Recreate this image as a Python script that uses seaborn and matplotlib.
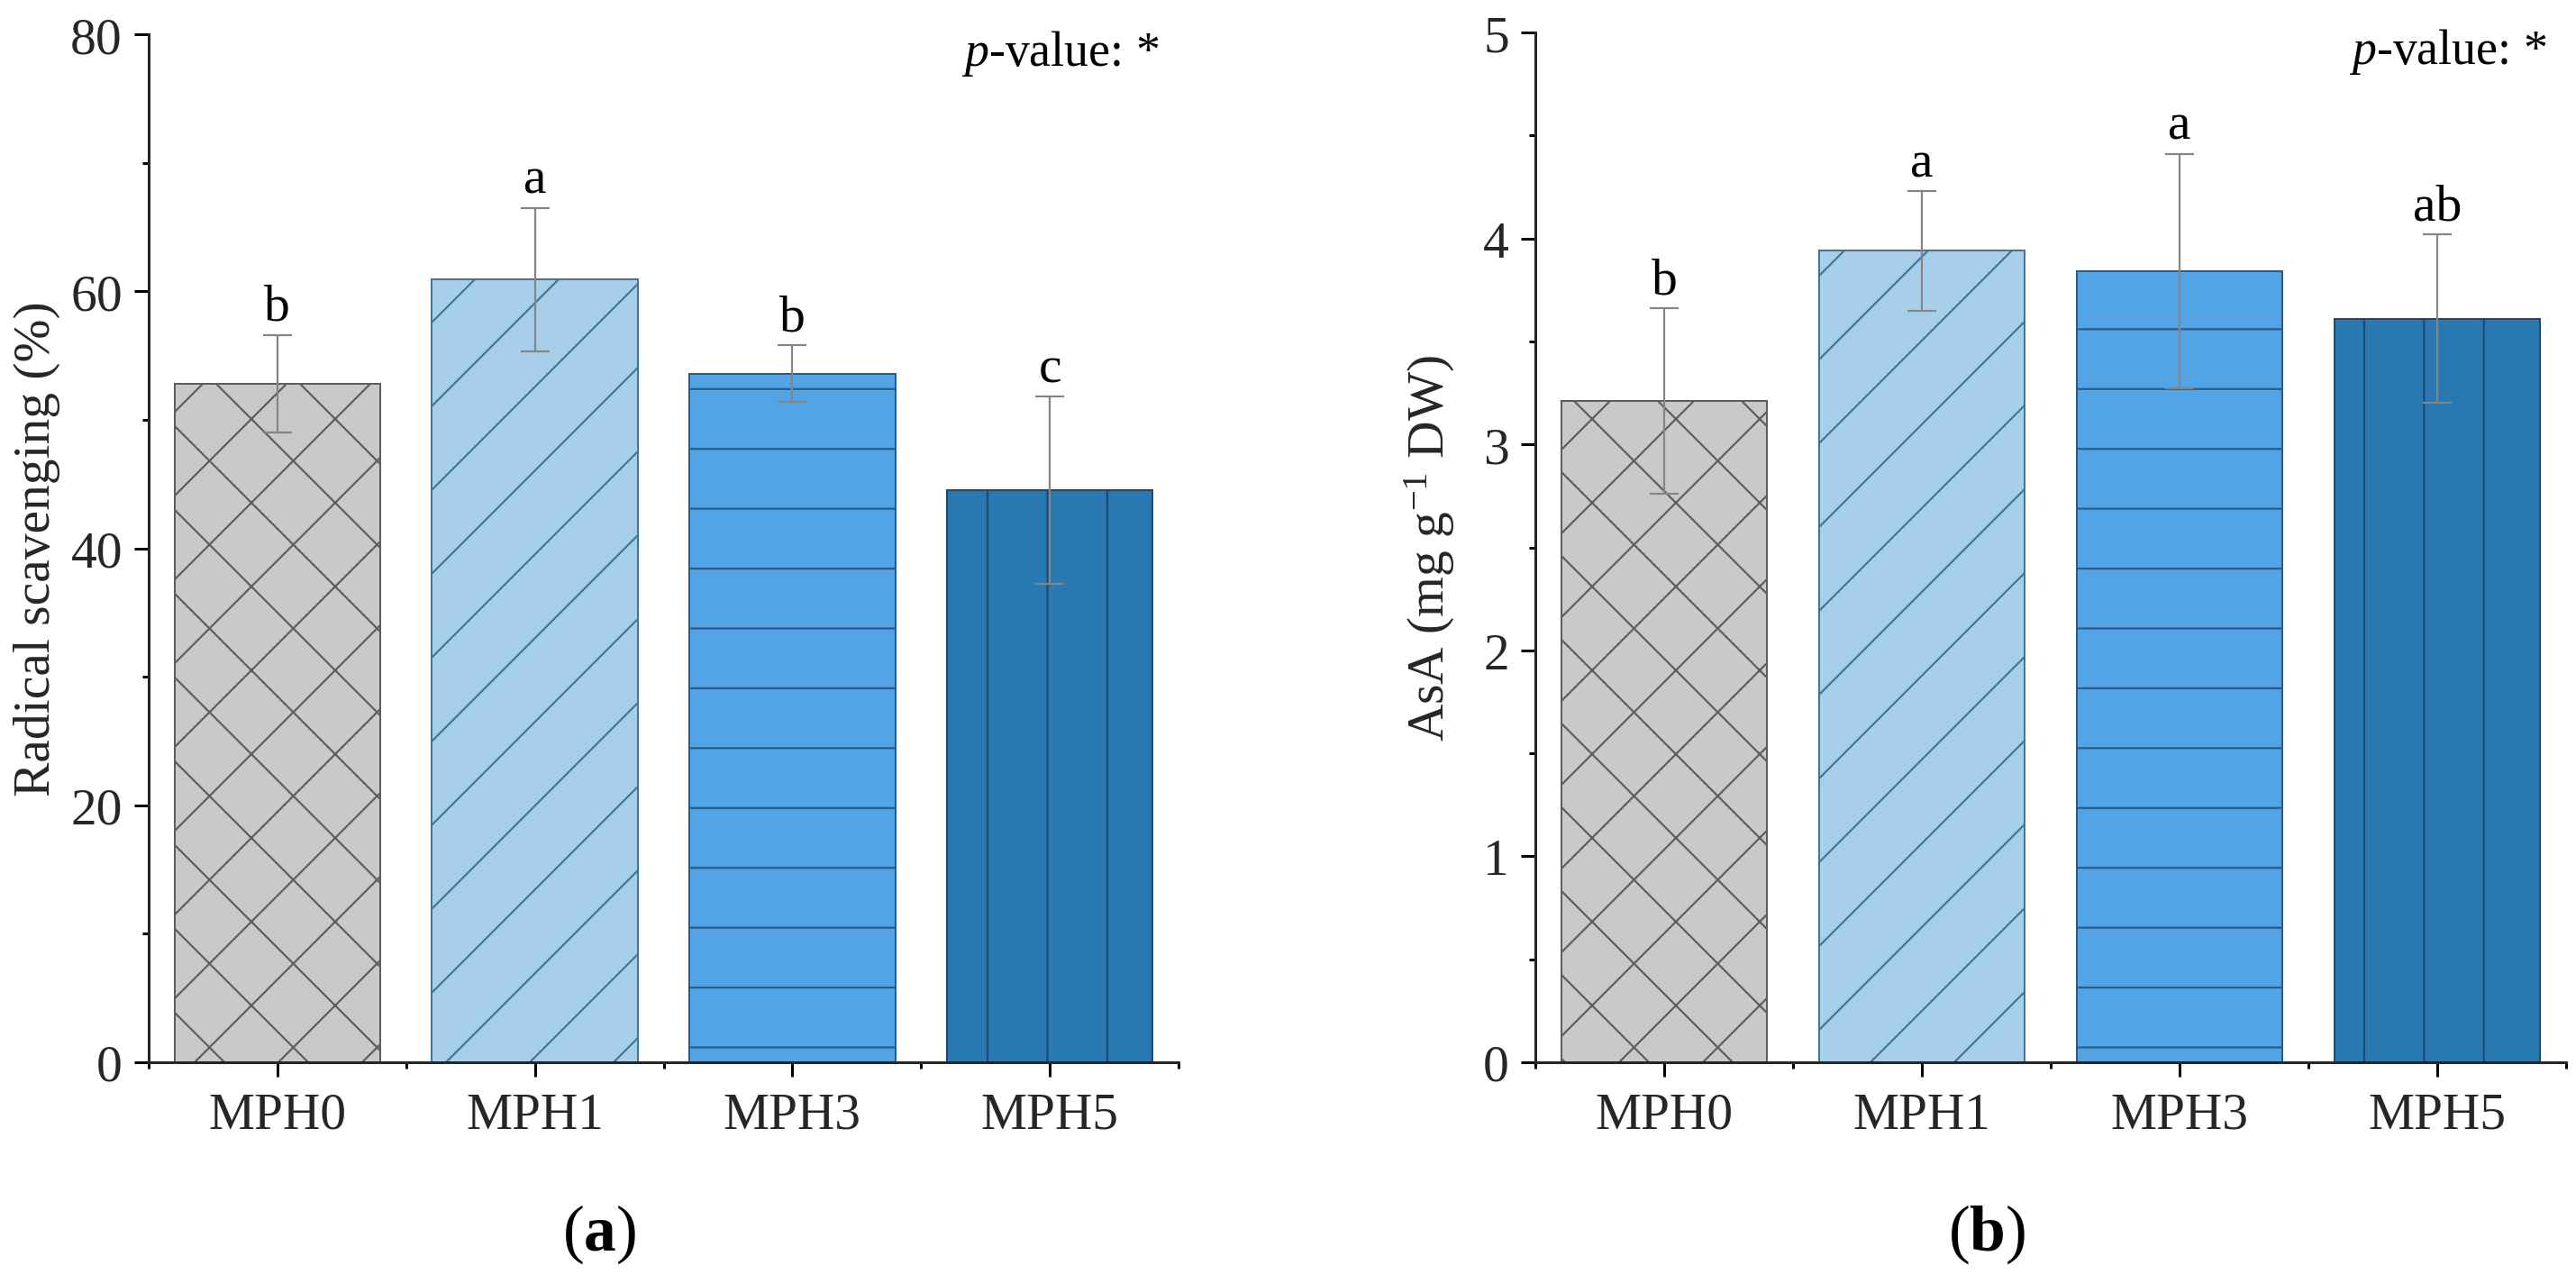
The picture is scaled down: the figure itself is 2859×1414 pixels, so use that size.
import matplotlib
matplotlib.use("Agg")
import matplotlib.pyplot as plt
import seaborn as sns
import pandas as pd
from matplotlib.ticker import MultipleLocator, FixedLocator

# ---------------- data ----------------
categories = ["MPH0", "MPH1", "MPH3", "MPH5"]

radical_mean = [52.8, 60.9, 53.6, 44.5]
radical_err = [3.8, 5.6, 2.2, 7.3]
radical_letters = ["b", "a", "b", "c"]

asa_mean = [3.21, 3.94, 3.84, 3.61]
asa_err = [0.45, 0.29, 0.57, 0.41]
asa_letters = ["b", "a", "a", "ab"]

bar_colors = ["#c9c9c9", "#a7cfe9", "#52a4e5", "#2879b1"]
edge_colors = ["#5e5e5e", "#44749a", "#2c5c86", "#1d4a70"]
hatches = ["x" * 10, "/" * 10, "-" * 7, "|" * 7]

# ---------------- figure setup ----------------
W, H = 2859, 1415
DPI = 2790


def px(v):
    return v * 72.0 / DPI


sns.set_style("ticks")
plt.rcParams["font.family"] = ["Liberation Serif", "DejaVu Serif"]
plt.rcParams["mathtext.fontset"] = "custom"
plt.rcParams["mathtext.rm"] = "Liberation Serif"
plt.rcParams["mathtext.it"] = "Liberation Serif:italic"
plt.rcParams["mathtext.bf"] = "Liberation Serif:bold"
plt.rcParams["axes.linewidth"] = px(3)
plt.rcParams["hatch.linewidth"] = px(2.2)
plt.rcParams["text.color"] = "black"

fig = plt.figure(figsize=(W / DPI, H / DPI), dpi=DPI)
fig.patch.set_facecolor("white")

ax_a = fig.add_axes([165 / W, 1 - 1180 / H, (1308 - 165) / W, (1180 - 39) / H])
ax_b = fig.add_axes([1704 / W, 1 - 1180 / H, (2848 - 1704) / W, (1180 - 37) / H])

FS = px(58)


def draw(ax, mean, err, letters, ymax, major, minor, ylabel, label_x):
    df = pd.DataFrame({"cat": categories, "val": mean})
    sns.barplot(data=df, x="cat", y="val", hue="cat", palette=bar_colors,
                legend=False, saturation=1, width=0.8, errorbar=None, ax=ax)
    bars = sorted(ax.patches, key=lambda p: p.get_x())
    for p, ec, h in zip(bars, edge_colors, hatches):
        p.set_edgecolor(ec)
        p.set_linewidth(px(2))
        p.set_hatch(h)
    ax.errorbar(range(len(categories)), mean, yerr=err, fmt="none",
                ecolor="#858585", elinewidth=px(2.2), capsize=px(16),
                capthick=px(2.2), zorder=3)
    for i, (m, e, t) in enumerate(zip(mean, err, letters)):
        ax.annotate(t, xy=(i, m + e), xytext=(0, px(17)),
                    textcoords="offset points", ha="center", va="baseline",
                    fontsize=FS)
    ax.set_xlim(-0.5, len(categories) - 0.5)
    ax.set_ylim(0, ymax)
    ax.yaxis.set_major_locator(MultipleLocator(major))
    ax.yaxis.set_minor_locator(MultipleLocator(minor))
    ax.xaxis.set_minor_locator(FixedLocator([-0.5, 0.5, 1.5, 2.5, 3.5]))
    ax.tick_params(axis="both", which="major", length=px(16), width=px(3),
                   direction="out", labelsize=FS, color="black")
    ax.tick_params(axis="both", which="minor", length=px(7), width=px(3),
                   direction="out", color="black")
    ax.tick_params(axis="y", which="major", pad=px(13))
    ax.tick_params(axis="x", which="major", pad=px(17))
    ax.set_xlabel("")
    ax.set_ylabel(ylabel, fontsize=FS)
    ax.yaxis.set_label_coords(label_x, 0.5)
    sns.despine(ax=ax)
    ax.text(0.981, 0.970, r"$p$-value: *", transform=ax.transAxes,
            ha="right", va="baseline", fontsize=px(54))


draw(ax_a, radical_mean, radical_err, radical_letters, 80, 20, 10,
     "Radical scavenging (%)", -0.0857)
draw(ax_b, asa_mean, asa_err, asa_letters, 5, 1, 0.5,
     r"AsA (mg g$^{-1}$ DW)", -0.076)

fig.text(665 / W, 1 - 1370 / H, r"($\mathbf{a}$)", ha="center", va="center",
         fontsize=px(72))
fig.text(2205 / W, 1 - 1370 / H, r"($\mathbf{b}$)", ha="center", va="center",
         fontsize=px(72))

fig.savefig("out.png", dpi=DPI, facecolor="white")
